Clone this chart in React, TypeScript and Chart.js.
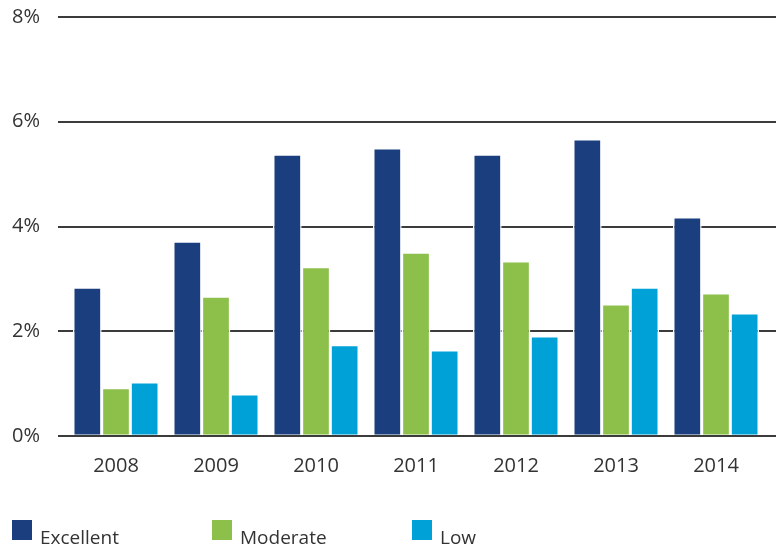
import React, { useEffect, useRef } from "react";
import { Chart, registerables } from "chart.js";

Chart.register(...registerables);

const categories = ["2008", "2009", "2010", "2011", "2012", "2013", "2014"];
const excellent = [2.84, 3.72, 5.38, 5.5, 5.38, 5.67, 4.18];
const moderate = [0.92, 2.67, 3.23, 3.51, 3.34, 2.52, 2.73];
const low = [1.03, 0.8, 1.74, 1.64, 1.91, 2.84, 2.35];
const yTicks = [0, 2, 4, 6, 8];

const seriesNames = ["Excellent", "Moderate", "Low"];
const seriesColors = ["#1b3f7e", "#8cc04b", "#00a1d7"];

const FONT = "'Open Sans', 'DejaVu Sans', sans-serif";
const GRID = "#3b3b3b";

const gridPlugin = {
  id: "customGrid",
  beforeDatasetsDraw(chart: any) {
    const { ctx, scales, chartArea, width } = chart;
    const y = scales.y;
    ctx.save();
    ctx.strokeStyle = GRID;
    ctx.lineWidth = 2;
    y.ticks.forEach((t: any) => {
      if (t.value === 0) return;
      const py = Math.round(y.getPixelForValue(t.value));
      ctx.beginPath();
      ctx.moveTo(chartArea.left - 8, py);
      ctx.lineTo(width, py);
      ctx.stroke();
    });
    ctx.restore();
  },
  afterDatasetsDraw(chart: any) {
    const { ctx, scales, chartArea, width } = chart;
    const py = Math.round(scales.y.getPixelForValue(0));
    ctx.save();
    ctx.strokeStyle = GRID;
    ctx.lineWidth = 2;
    ctx.beginPath();
    ctx.moveTo(chartArea.left - 8, py);
    ctx.lineTo(width, py);
    ctx.stroke();
    ctx.restore();
  },
};

export default function App() {
  const ref = useRef<HTMLCanvasElement>(null);
  useEffect(() => {
    if (!ref.current) return;
    const data = [excellent, moderate, low];
    const chart = new Chart(ref.current, {
      type: "bar",
      data: {
        labels: categories,
        datasets: data.map((d, i) => ({
          label: seriesNames[i],
          data: d,
          backgroundColor: seriesColors[i],
          borderColor: "#ffffff",
          borderWidth: 1.5,
          borderSkipped: false,
          categoryPercentage: 0.86,
          barPercentage: 1,
        })),
      },
      options: {
        animation: false,
        responsive: false,
        maintainAspectRatio: false,
        layout: { padding: { left: 0, right: 10, top: 17, bottom: 0 } },
        plugins: { legend: { display: false }, tooltip: { enabled: false } },
        scales: {
          x: {
            grid: { display: false, drawTicks: false },
            border: { display: false },
            ticks: { color: "#333333", font: { family: FONT, size: 20 }, padding: 18 },
            afterFit: (s: any) => {
              s.height = 113;
            },
          },
          y: {
            min: 0,
            max: 8,
            afterBuildTicks: (s: any) => {
              s.ticks = yTicks.map((v) => ({ value: v }));
            },
            grid: { display: false, drawTicks: false },
            border: { display: false },
            ticks: {
              color: "#333333",
              font: { family: FONT, size: 20 },
              padding: 26,
              callback: (v: any) => v + "%",
            },
            afterFit: (s: any) => {
              s.width = 66;
              s.paddingTop = 0;
              s.paddingBottom = 0;
            },
          },
        },
      },
      plugins: [gridPlugin],
    });
    return () => chart.destroy();
  }, []);

  return (
    <div style={{ position: "absolute", left: 0, top: 0, width: 776, height: 549, background: "#fff" }}>
      <canvas ref={ref} width={776} height={549} style={{ display: "block" }} />
      {seriesNames.map((n, i) => (
        <div
          key={n}
          style={{
            position: "absolute",
            left: 12 + i * 200,
            top: 520,
            display: "flex",
            alignItems: "center",
            fontFamily: FONT,
            fontSize: 19,
            color: "#333333",
            lineHeight: "20px",
          }}
        >
          <span style={{ display: "inline-block", width: 20, height: 20, background: seriesColors[i], marginRight: 8 }} />
          <span style={{ position: "relative", top: 7 }}>{n}</span>
        </div>
      ))}
    </div>
  );
}
